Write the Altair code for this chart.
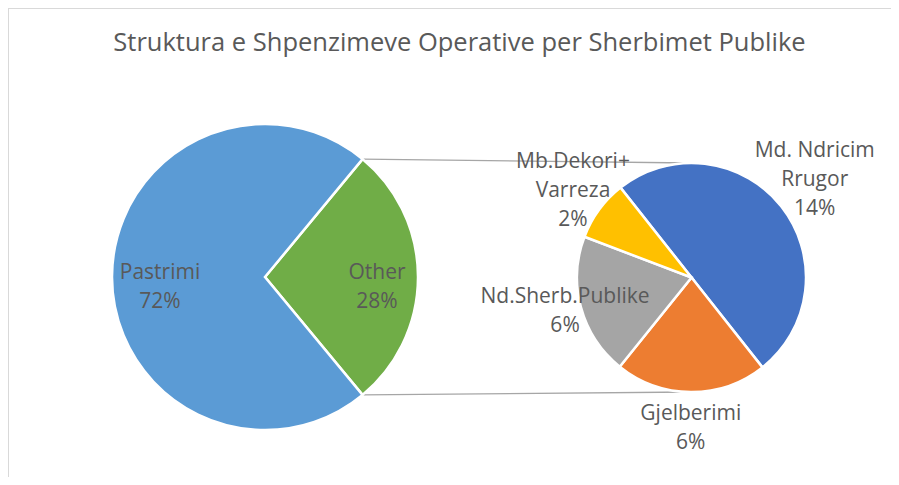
import math
import altair as alt
import pandas as pd

# ---------------- data ----------------
TITLE = "Struktura e Shpenzimeve Operative per Sherbimet Publike"
MAIN_CATS = ["Other", "Pastrimi"]
PASTRIMI_VALUE = 72.0
SUB_CATS = ["Md. Ndricim Rrugor", "Gjelberimi", "Nd.Sherb.Publike", "Mb.Dekori+ Varreza"]
SUB_LABELS = ["Md. Ndricim\nRrugor", "Gjelberimi", "Nd.Sherb.Publike", "Mb.Dekori+\nVarreza"]
SUB_VALUES = [14.0, 6.0, 5.6, 2.4]

# ---------------- styles / layout ----------------
MAIN_COLORS = ["#70AD47", "#5B9BD5"]
SUB_COLORS = ["#4472C4", "#ED7D31", "#A5A5A5", "#FFC000"]
TEXT_COLOR = "#595959"
FONT = "Open Sans"
LABEL_SIZE = 21
LINE_H = 29
W, H = 883, 469
L_CX, L_CY, L_R = 257, 269, 153
R_CX, R_CY, R_R = 683.5, 269.5, 114.5
R_START_DEG = 321.7
MAIN_LABEL_R = [112, 105]
SUB_LABEL_R = [157, 151, 131, 147]

other_value = sum(SUB_VALUES)
main_values = [other_value, PASTRIMI_VALUE]
total = sum(main_values)


def make_df(cats, values, labels, radii):
    txt = [f"{l}\n{round(v / total * 100)}%" for l, v in zip(labels, values)]
    return pd.DataFrame({
        "cat": cats,
        "value": values,
        "idx": list(range(len(cats))),
        "label": txt,
        "nlines": [t.count("\n") + 1 for t in txt],
        "lr": radii,
    })


main_df = make_df(MAIN_CATS, main_values, MAIN_CATS, MAIN_LABEL_R)
sub_df = make_df(SUB_CATS, SUB_VALUES, SUB_LABELS, SUB_LABEL_R)

# left pie rotation: "Other" wedge centred on the right-hand side
L_START = math.pi / 2 - math.pi * other_value / total
L_END_OTHER = L_START + 2 * math.pi * other_value / total
R_START = math.radians(R_START_DEG)

color_scale = alt.Scale(domain=MAIN_CATS + SUB_CATS, range=MAIN_COLORS + SUB_COLORS)


def pie(df, cx, cy, r, start, extra_dy):
    tot = float(df["value"].sum())
    tscale = alt.Scale(domain=[0, tot], range=[start, start + 2 * math.pi])
    arc = alt.Chart(df).mark_arc(radius=r, stroke="white", strokeWidth=2.5).encode(
        theta=alt.Theta("value:Q", stack=True, scale=tscale),
        order=alt.Order("idx:Q"),
        color=alt.Color("cat:N", scale=color_scale, legend=None),
        x=alt.value(cx), y=alt.value(cy),
    )
    base = alt.Chart(df).transform_stack(
        stack="value", groupby=[], as_=["v0", "v1"], sort=[alt.SortField("idx")]
    ).transform_calculate(mid="(datum.v0 + datum.v1) / 2")
    layers = [arc]
    for n in (2, 3):
        layers.append(
            base.transform_filter(alt.datum.nlines == n).mark_text(
                lineBreak="\n", fontSize=LABEL_SIZE, font=FONT, color=TEXT_COLOR,
                baseline="middle", align="center", lineHeight=LINE_H,
                dy=extra_dy - (n - 1) * LINE_H / 2,
            ).encode(
                theta=alt.Theta("mid:Q", scale=tscale),
                radius=alt.Radius("lr:Q", scale=None),
                text="label:N",
                x=alt.value(cx), y=alt.value(cy),
            )
        )
    return alt.layer(*layers)


left = pie(main_df, L_CX, L_CY, L_R, L_START, 10)
right = pie(sub_df, R_CX, R_CY, R_R, R_START, 0)

# connector lines from the "Other" wedge corners to the second pie
conn_df = pd.DataFrame({
    "x": [L_CX + L_R * math.sin(L_START), L_CX + L_R * math.sin(L_END_OTHER)],
    "y": [L_CY - L_R * math.cos(L_START), L_CY - L_R * math.cos(L_END_OTHER)],
    "x2": [R_CX, R_CX],
    "y2": [R_CY - R_R, R_CY + R_R],
})
connectors = alt.Chart(conn_df).mark_rule(color="#A6A6A6", strokeWidth=1.3).encode(
    x=alt.X("x:Q", scale=None), y=alt.Y("y:Q", scale=None),
    x2="x2:Q", y2="y2:Q",
)

# chart-area frame (top and left edges visible)
border_top = alt.Chart(main_df).mark_rule(color="#D9D9D9", strokeWidth=1.5).encode(
    x=alt.value(0), x2=alt.value(W), y=alt.value(0))
border_left = alt.Chart(main_df).mark_rule(color="#D9D9D9", strokeWidth=1.5).encode(
    x=alt.value(0), y=alt.value(0), y2=alt.value(H))

chart = alt.layer(border_top, border_left, connectors, left, right).resolve_scale(
    theta="independent"
).properties(
    width=W, height=H,
    autosize=alt.AutoSizeParams(type="none"),
    padding=0,
    title=alt.TitleParams(TITLE, fontSize=25.5, font=FONT, color=TEXT_COLOR,
                          fontWeight="normal", anchor="middle", frame="group",
                          offset=-49, dx=10),
).configure_view(stroke=None).configure(background="white")

chart.save("out.html", embed_options={"renderer": "svg", "actions": False})
